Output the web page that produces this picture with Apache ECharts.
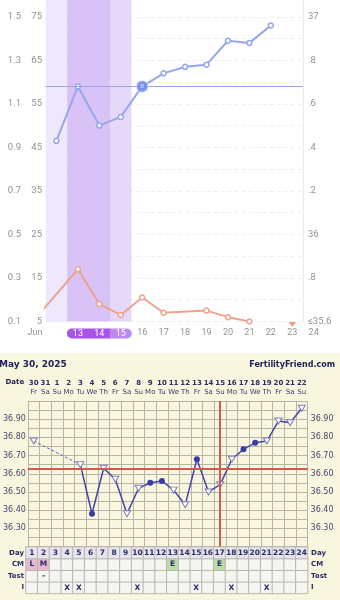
<!DOCTYPE html>
<html><head><meta charset="utf-8">
<script src="https://cdn.jsdelivr.net/npm/echarts@6/dist/echarts.min.js"></script>
<style>
html,body{margin:0;padding:0;width:340px;height:600px;overflow:hidden;background:#fff;position:relative}
#top{position:absolute;left:0;top:-5px;width:340px;height:358px}
#ff{position:absolute;left:0;top:353px;width:340px;height:247px;background:#f8f6de}
</style></head><body>
<div id="top"></div><div id="ff"></div>
<script>
// ================= TOP CHART DATA =================
const axisDays = [11,12,13,14,15,16,17,18,19,20,21,22,23,24];
const axisDayLabels = ['Jun','','13','14','15','16','17','18','19','20','21','22','23','24'];
const pillDays = ['13','14','15'];
const bbtDays = [12,13,14,15,16,17,18,19,20,21,22];
const bbtVals = [36.43,36.68,36.50,36.54,36.68,36.74,36.77,36.78,36.89,36.88,36.96];
const baselineDay = 16;
const coverTemp = 36.68;
const lhDays = [11,13,14,15,16,17,19,20,21];
const lhVals = [5.6,17,9,6.5,10.5,7,7.5,6,5];
const lhBelowDays = [23];
const bandStart = [11.5,12.5,14.5];
const bandEnd = [12.5,14.5,15.5];
const leftTickValsA = [0.1,0.3,0.5,0.7,0.9,1.1,1.3,1.5];
const leftTickValsB = [5,15,25,35,45,55,65,75];
const rightTickVals = [35.6,35.8,36.0,36.2,36.4,36.6,36.8,37.0];
const rightTickLabels = ['≤35.6','.8','36','.2','.4','.6','.8','37'];

// ================= FERTILITY FRIEND DATA =================
const ffDays = ['1','2','3','4','5','6','7','8','9','10','11','12','13','14','15','16','17','18','19','20','21','22','23','24'];
const ffDates = ['30','31','1','2','3','4','5','6','7','8','9','10','11','12','13','14','15','16','17','18','19','20','21','22'];
const ffWeekdays = ['Fr','Sa','Su','Mo','Tu','We','Th','Fr','Sa','Su','Mo','Tu','We','Th','Fr','Sa','Su','Mo','Tu','We','Th','Fr','Sa','Su'];
const ffTemps = [36.78,null,null,null,36.65,36.38,36.63,36.57,36.38,36.52,36.55,36.56,36.51,36.43,36.68,36.50,36.54,36.68,36.735,36.77,36.78,36.89,36.88,36.96];
const ffMarks = ['v','','','','v','o','v','v','v','v','o','o','v','v','o','v','v','v','o','o','v','v','v','v'];
const ffCover = 36.63;
const ffCoverDay = '17';
const ffTickVals = [36.3,36.4,36.5,36.6,36.7,36.8,36.9];
const ffTickLabels = ['36.30','36.40','36.50','36.60','36.70','36.80','36.90'];
const tableRows = ['I','Test','CM','Day'];
const cmRow = ['L','M','','','','','','','','','','','E','','','','E','','','','','','',''];
const testRow = ['','-','','','','','','','','','','','','','','','','','','','','','',''];
const iRow = ['','','','X','X','','','','','X','','','','','X','','','X','','','X','','',''];

const near = (a,b) => Math.abs(a-b) < 1e-6;
const lookup = (vals, labels, v) => { const i = vals.findIndex(x => near(x, v)); return i < 0 ? '' : labels[i]; };

// ---------------- top chart ----------------
const topChart = echarts.init(document.getElementById('top'));
const gray = '#929292';
const blue = '#94a7ec';
const orange = '#f0a38c';
const bandColors = ['#efe7fb','#d8c2f6','#e6d8f9'];
const yLabelBase = {color: gray, fontSize: 9.5, fontFamily: 'Roboto'};
const bIdx = bbtDays.indexOf(baselineDay);

topChart.setOption({
  animation: false,
  grid: [
    {left: 45.7, right: 37, top: 0, height: 326.5},
    {left: 24.3, right: 15.6, top: 0, height: 326.5}
  ],
  xAxis: [
    {type: 'value', gridIndex: 0, min: 11.5, max: 23.5, show: false},
    {type: 'category', gridIndex: 1, data: axisDayLabels, boundaryGap: true,
     axisLine: {show: false}, axisTick: {show: false}, splitLine: {show: false},
     axisLabel: {interval: 0, margin: 7, color: gray, fontSize: 9, fontFamily: 'Roboto',
       formatter: (v, i) => {
         const p = pillDays.indexOf(v);
         if (p === 0) return '{a|' + v + '}';
         if (p === 1) return '{b|' + v + '}';
         if (p === 2) return '{c|' + v + '}';
         return v;
       },
       rich: {
         a: {backgroundColor: '#a653e9', color: '#fff', width: 22, height: 10, lineHeight: 10, align: 'center', fontSize: 9, borderRadius: [5,0,0,5]},
         b: {backgroundColor: '#a653e9', color: '#fff', width: 22, height: 10, lineHeight: 10, align: 'center', fontSize: 9, borderRadius: 0},
         c: {backgroundColor: '#bb88ef', color: '#fff', width: 22, height: 10, lineHeight: 10, align: 'center', fontSize: 9, borderRadius: [0,5,5,0]}
       }}}
  ],
  yAxis: [
    {type: 'value', gridIndex: 0, min: 0.1, max: 1.6, interval: 0.2, position: 'left',
     axisLine: {show: false}, axisTick: {show: false}, splitLine: {show: false},
     axisLabel: Object.assign({margin: 24.7, formatter: v => { const t = leftTickValsA.find(x => near(x, v)); return t === undefined ? '' : t.toFixed(1); }}, yLabelBase)},
    {type: 'value', gridIndex: 0, min: 5, max: 80, interval: 10, position: 'left',
     axisLine: {show: false}, axisTick: {show: false}, splitLine: {show: false},
     axisLabel: Object.assign({margin: 3.7, formatter: v => { const t = leftTickValsB.find(x => near(x, v)); return t === undefined ? '' : String(t); }}, yLabelBase)},
    {type: 'value', gridIndex: 0, min: 35.6, max: 37.1, interval: 0.1, position: 'right',
     axisLine: {show: true, lineStyle: {color: '#eaeaea', width: 1}}, axisTick: {show: false},
     splitLine: {show: true, lineStyle: {type: [4,3], color: '#efefef', width: 1}},
     axisLabel: Object.assign({margin: 5, formatter: v => lookup(rightTickVals, rightTickLabels, v)}, yLabelBase)},
    {type: 'value', gridIndex: 1, show: false}
  ],
  series: [
    {type: 'line', xAxisIndex: 0, yAxisIndex: 2, z: 3,
     data: bbtDays.map((d, i) => [d, bbtVals[i]]),
     symbol: 'circle', symbolSize: 5,
     itemStyle: {color: '#ffffff', borderColor: blue, borderWidth: 1.5},
     lineStyle: {color: blue, width: 2},
     markArea: {silent: true, z: 0,
       data: bandStart.map((s, i) => [{xAxis: s, itemStyle: {color: bandColors[i]}}, {xAxis: bandEnd[i]}])},
     markLine: {silent: true, symbol: 'none', label: {show: false},
       lineStyle: {color: '#93a7ea', width: 1, type: 'solid'},
       data: [{yAxis: coverTemp}]}
    },
    {type: 'scatter', xAxisIndex: 0, yAxisIndex: 2, z: 5,
     data: [[baselineDay, bbtVals[bIdx]]],
     symbol: 'circle', symbolSize: 12,
     itemStyle: {color: '#6b85e8', borderColor: '#ffffff', borderWidth: 0.8},
     label: {show: true, position: 'inside', formatter: 'B', color: '#e4eaff', fontSize: 6, fontFamily: 'Roboto', fontWeight: 'normal'}},
    {type: 'line', xAxisIndex: 0, yAxisIndex: 1, z: 3,
     data: lhDays.map((d, i) => [d, lhVals[i]]),
     symbol: 'circle', symbolSize: 5,
     itemStyle: {color: '#ffffff', borderColor: orange, borderWidth: 1.5},
     lineStyle: {color: orange, width: 2}},
    {type: 'scatter', xAxisIndex: 0, yAxisIndex: 1, clip: false, z: 4,
     data: lhBelowDays.map(d => [d, 5]),
     symbol: 'path://M0,0L10,0L5,6Z', symbolSize: [8,5], symbolOffset: [0,3],
     itemStyle: {color: '#ee8567'}}
  ]
});

// ---------------- Fertility Friend chart ----------------
const ffChart = echarts.init(document.getElementById('ff'));
const navy = '#2c2c62';
const ffGrid = '#b7b3a6';
const ffFont = 'DejaVu Sans';
const tri = 'path://M0,0L10,0L5,9Z';
const cellText = [iRow, testRow, cmRow, ffDays];
const cellColor = (r, c) => {
  if (r === 3) return '#e6e4ee';
  if (r === 2 && (cmRow[c] === 'L' || cmRow[c] === 'M')) return '#e7b9d0';
  if (r === 2 && cmRow[c] === 'E') return '#b9dcab';
  return '#f5f5f2';
};
const heat = [];
for (let r = 0; r < tableRows.length; r++) {
  for (let c = 0; c < ffDays.length; c++) {
    heat.push({value: [c, r, 1], itemStyle: {color: cellColor(r, c)}});
  }
}
const coverIdx = ffDays.indexOf(ffCoverDay);

ffChart.setOption({
  animation: false,
  title: [
    {text: 'May 30, 2025', left: -1, top: 7, padding: 0, textStyle: {fontFamily: ffFont, fontSize: 9, fontWeight: 'bold', color: '#22225a'}},
    {text: 'FertilityFriend.com', right: 5, top: 7.5, padding: 0, textStyle: {fontFamily: ffFont, fontSize: 8, fontWeight: 'bold', color: '#22225a'}},
    {text: 'Date', left: 5.5, top: 26, padding: 0, textStyle: {fontFamily: ffFont, fontSize: 7, fontWeight: 'bold', color: '#22225a'}}
  ],
  grid: [
    {left: 26, right: 32.4, top: 48, height: 145.5},
    {left: 26, right: 32.4, top: 194, height: 46.4}
  ],
  xAxis: [
    {type: 'category', gridIndex: 0, data: ffDays, position: 'top', boundaryGap: true,
     axisLine: {show: false}, axisTick: {show: false},
     splitLine: {show: true, interval: 0, lineStyle: {color: ffGrid, width: 1}},
     axisLabel: {interval: 0, margin: 4.5, fontFamily: ffFont,
       formatter: (v, i) => '{d|' + ffDates[i] + '}\n{w|' + ffWeekdays[i] + '}',
       rich: {d: {fontSize: 7, fontWeight: 'bold', color: navy, lineHeight: 9, fontFamily: ffFont},
              w: {fontSize: 7, color: '#3c3c68', lineHeight: 9, fontFamily: ffFont}}}},
    {type: 'category', gridIndex: 1, data: ffDays, show: false}
  ],
  yAxis: [
    {type: 'value', gridIndex: 0, min: 36.2, max: 37.0, interval: 0.05, position: 'left',
     axisLine: {show: false}, axisTick: {show: false},
     splitLine: {show: true, lineStyle: {color: ffGrid, width: 1}},
     axisLabel: {margin: 2, fontFamily: ffFont, fontSize: 8, color: '#46466e', formatter: v => lookup(ffTickVals, ffTickLabels, v)}},
    {type: 'value', gridIndex: 0, min: 36.2, max: 37.0, interval: 0.05, position: 'right',
     axisLine: {show: false}, axisTick: {show: false}, splitLine: {show: false},
     axisLabel: {margin: 3, fontFamily: ffFont, fontSize: 8, color: '#46466e', formatter: v => lookup(ffTickVals, ffTickLabels, v)}},
    {type: 'category', gridIndex: 1, data: tableRows, position: 'left',
     axisLine: {show: false}, axisTick: {show: false}, splitLine: {show: false},
     axisLabel: {margin: 2, fontFamily: ffFont, fontSize: 7, fontWeight: 'bold', color: navy}},
    {type: 'category', gridIndex: 1, data: tableRows, position: 'right',
     axisLine: {show: false}, axisTick: {show: false}, splitLine: {show: false},
     axisLabel: {margin: 3.5, fontFamily: ffFont, fontSize: 7, fontWeight: 'bold', color: navy}}
  ],
  series: [
    {type: 'line', xAxisIndex: 0, yAxisIndex: 0, z: 2,
     data: ffTemps.map((t, i) => (i === 0 || i === 4) ? t : null),
     connectNulls: true, symbol: 'none',
     lineStyle: {color: '#6464bc', width: 1, type: [3,2]}},
    {type: 'line', xAxisIndex: 0, yAxisIndex: 0, z: 3,
     data: ffTemps.map((t, i) => t === null ? null : (ffMarks[i] === 'o' ?
       {value: t, symbol: 'circle', symbolSize: 6, itemStyle: {color: '#3b3ba6', borderColor: '#3b3ba6', borderWidth: 0}} :
       {value: t, symbol: tri, symbolSize: [7,6], itemStyle: {color: '#ffffff', borderColor: '#7e7cba', borderWidth: 1}})),
     connectNulls: false,
     lineStyle: {color: '#4343aa', width: 1.5},
     markLine: {silent: true, symbol: 'none', label: {show: false},
       lineStyle: {color: '#d05a4f', width: 2, type: 'solid'},
       data: [{yAxis: ffCover}, {xAxis: coverIdx}]}},
    {type: 'heatmap', xAxisIndex: 1, yAxisIndex: 2, data: heat,
     itemStyle: {borderColor: '#b9b5aa', borderWidth: 1},
     label: {show: true, fontFamily: ffFont, fontSize: 7.5, fontWeight: 'bold', color: navy,
       formatter: p => cellText[p.value[1]][p.value[0]]}}
  ]
});
</script>
</body></html>
